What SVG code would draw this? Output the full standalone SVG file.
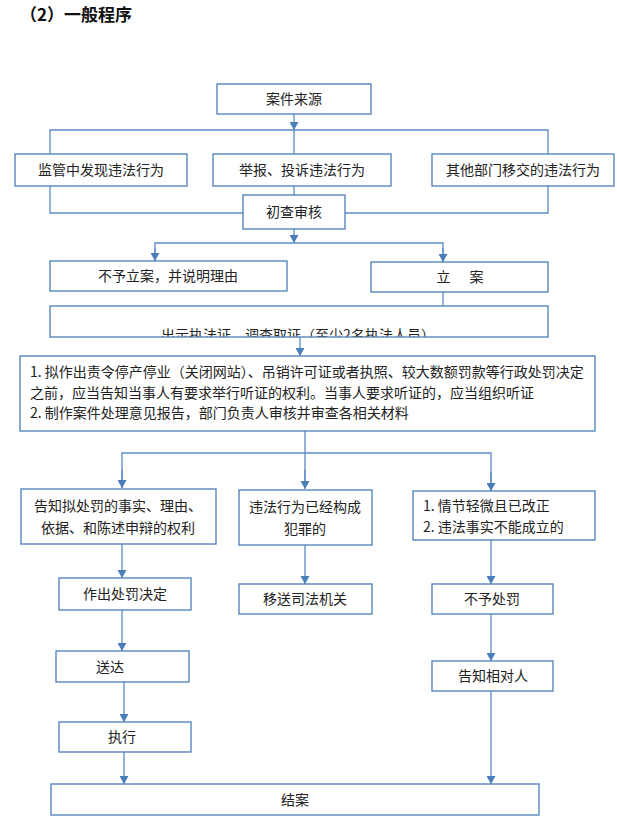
<svg xmlns="http://www.w3.org/2000/svg" width="617" height="819" viewBox="0 0 617 819">
<style>
.b{fill:#fff;stroke:#4a7ebb;stroke-width:1.3}
.t{font-family:"Noto Sans CJK SC","Noto Sans",sans-serif;font-size:14px;fill:#222}
.c{text-anchor:middle}
.ln{fill:none;stroke:#5b8bc9;stroke-width:1.3}
</style>
<defs>
<marker id="a" markerWidth="9" markerHeight="9" refX="8" refY="4.5" orient="auto" markerUnits="userSpaceOnUse">
<path d="M0,0 L8,4.5 L0,9 z" fill="#4a7ebb"/>
</marker>
<clipPath id="clipW"><rect x="51" y="307" width="496" height="29.5"/></clipPath>
</defs>
<text x="20" y="21" font-family="'Noto Sans CJK SC',sans-serif" font-size="17" font-weight="bold" fill="#111" xml:space="preserve">（2）一般程序</text>

<g id="connectors">
<path class="ln" d="M294,114 V130" marker-end="url(#a)"/>
<path class="ln" d="M50,154 V130 H548 V154 M294,130 V154"/>
<path class="ln" d="M50,186 V213 H243 M548,186 V213 H345 M294,186 V195"/>
<path class="ln" d="M294,229 V243" marker-end="url(#a)"/>
<path class="ln" d="M155,261 V243 H443 V262"/>
<path class="ln" d="M155,248 V261" marker-end="url(#a)"/>
<path class="ln" d="M443,248 V262" marker-end="url(#a)"/>
<path class="ln" d="M443,292 V306"/>
<path class="ln" d="M300,337 V356" marker-end="url(#a)"/>
<path class="ln" d="M305,431 V453 M122,488 V453 H491 V491 M305,453 V488"/>
<path class="ln" d="M122,470 V488" marker-end="url(#a)"/>
<path class="ln" d="M305,470 V489" marker-end="url(#a)"/>
<path class="ln" d="M491,472 V491" marker-end="url(#a)"/>
<path class="ln" d="M122,544 V578" marker-end="url(#a)"/>
<path class="ln" d="M305,545 V584" marker-end="url(#a)"/>
<path class="ln" d="M491,540 V584" marker-end="url(#a)"/>
<path class="ln" d="M122,610 V651" marker-end="url(#a)"/>
<path class="ln" d="M491,614 V661" marker-end="url(#a)"/>
<path class="ln" d="M124,682 V722" marker-end="url(#a)"/>
<path class="ln" d="M124,752 V784" marker-end="url(#a)"/>
<path class="ln" d="M491,691 V784" marker-end="url(#a)"/>
</g>

<g id="n-source"><rect class="b" x="217" y="84" width="154" height="30"/><text class="t c" x="294" y="104">案件来源</text></g>
<g id="n-jianguan"><rect class="b" x="15" y="154" width="172" height="32"/><text class="t c" x="101" y="175">监管中发现违法行为</text></g>
<g id="n-jubao"><rect class="b" x="213" y="154" width="178" height="32"/><text class="t c" x="302" y="175">举报、投诉违法行为</text></g>
<g id="n-qita"><rect class="b" x="432" y="154" width="182" height="32"/><text class="t c" x="523" y="175">其他部门移交的违法行为</text></g>
<g id="n-chucha"><rect class="b" x="243" y="195" width="102" height="34"/><text class="t c" x="294" y="217">初查审核</text></g>
<g id="n-buyu"><rect class="b" x="50" y="261" width="237" height="30"/><text class="t c" x="168" y="281">不予立案，并说明理由</text></g>
<g id="n-lian"><rect class="b" x="371" y="262" width="177" height="30"/><text class="t c" x="460" y="282" xml:space="preserve">立      案</text></g>
<g id="n-diaocha"><rect class="b" x="50" y="306" width="498" height="31"/><text class="t c" x="298" y="340" clip-path="url(#clipW)">出示执法证，调查取证（至少2名执法人员）</text></g>
<g id="n-tingzheng"><rect class="b" x="20" y="356" width="575" height="75"/>
<text class="t" x="30" y="377">1. 拟作出责令停产停业（关闭网站）、吊销许可证或者执照、较大数额罚款等行政处罚决定</text>
<text class="t" x="30" y="398">之前，应当告知当事人有要求举行听证的权利。当事人要求听证的，应当组织听证</text>
<text class="t" x="30" y="418">2. 制作案件处理意见报告，部门负责人审核并审查各相关材料</text></g>
<g id="n-gaozhi"><rect class="b" x="21" y="489" width="195" height="55"/>
<text class="t c" x="118" y="511">告知拟处罚的事实、理由、</text>
<text class="t c" x="118" y="533">依据、和陈述申辩的权利</text></g>
<g id="n-fanzui"><rect class="b" x="239" y="490" width="133" height="55"/>
<text class="t c" x="305" y="512">违法行为已经构成</text>
<text class="t c" x="305" y="534">犯罪的</text></g>
<g id="n-qingjie"><rect class="b" x="413" y="491" width="182" height="49"/>
<text class="t" x="423" y="511">1. 情节轻微且已改正</text>
<text class="t" x="423" y="532">2. 违法事实不能成立的</text></g>
<g id="n-zuochu"><rect class="b" x="59" y="578" width="132" height="32"/><text class="t c" x="125" y="599">作出处罚决定</text></g>
<g id="n-yisong"><rect class="b" x="239" y="584" width="133" height="30"/><text class="t c" x="305" y="604">移送司法机关</text></g>
<g id="n-buyuchufa"><rect class="b" x="432" y="584" width="121" height="30"/><text class="t c" x="492" y="604">不予处罚</text></g>
<g id="n-songda"><rect class="b" x="56" y="651" width="133" height="31"/><text class="t c" x="110" y="672">送达</text></g>
<g id="n-gaozhixiang"><rect class="b" x="432" y="661" width="121" height="30"/><text class="t c" x="493" y="681">告知相对人</text></g>
<g id="n-zhixing"><rect class="b" x="59" y="722" width="132" height="30"/><text class="t c" x="122" y="742">执行</text></g>
<g id="n-jiean"><rect class="b" x="51" y="784" width="488" height="31"/><text class="t c" x="295" y="805">结案</text></g>
</svg>
